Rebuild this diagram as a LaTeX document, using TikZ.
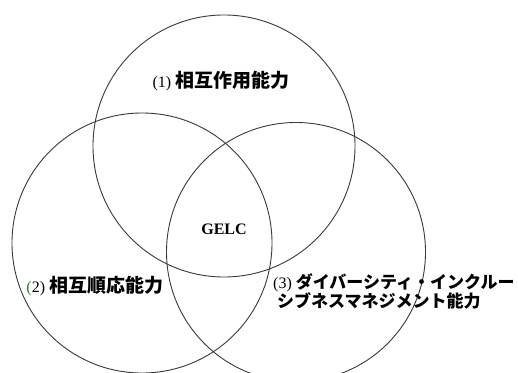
\documentclass[tikz,border=0pt]{standalone}
\usepackage{fontspec}
\setmainfont{Liberation Serif}
\newfontfamily\cjk{Noto Sans CJK JP}
\definecolor{ringgray}{HTML}{3A3A3A}
\definecolor{parengreen}{HTML}{2E7D32}
\begin{document}
\begin{tikzpicture}[x=1pt,y=-1pt,
  ring/.style={circle,draw=ringgray,line width=0.9pt,inner sep=0pt,minimum size=#1},
  labeltext/.style={inner sep=0pt,font=\cjk\bfseries\fontsize{19}{21}\selectfont},
  labelsmall/.style={inner sep=0pt,font=\cjk\bfseries\fontsize{17}{21}\selectfont,align=left},
  coretext/.style={inner sep=0pt,font=\bfseries\fontsize{16}{18}\selectfont}]
  \useasboundingbox (0,0) rectangle (518,372);
  \clip (0,0) rectangle (518,372);
  \fill[white] (0,0) rectangle (518,372);
  \node[ring=262pt] (top) at (224,146) {};
  \node[ring=260pt] (left) at (142,243) {};
  \node[ring=259pt] (right) at (296,252) {};
  \node[labeltext] (l1) at (221,81) {{\rmfamily\mdseries\fontsize{16}{18}\selectfont (1)} 相互作用能力};
  \node[labeltext] (l2) at (95,286) {{\rmfamily\mdseries\fontsize{16}{18}\selectfont\textcolor{parengreen}{(}2)} 相互順応能力};
  \node[labelsmall,anchor=north west] (l3) at (273,273) {{\rmfamily\mdseries\fontsize{16}{18}\selectfont (3)} ダイバーシティ・インクルー\\[-2pt]\hspace*{4pt}シブネスマネジメント能力};
  \node[coretext] (core) at (224,229) {GELC};
\end{tikzpicture}
\end{document}
